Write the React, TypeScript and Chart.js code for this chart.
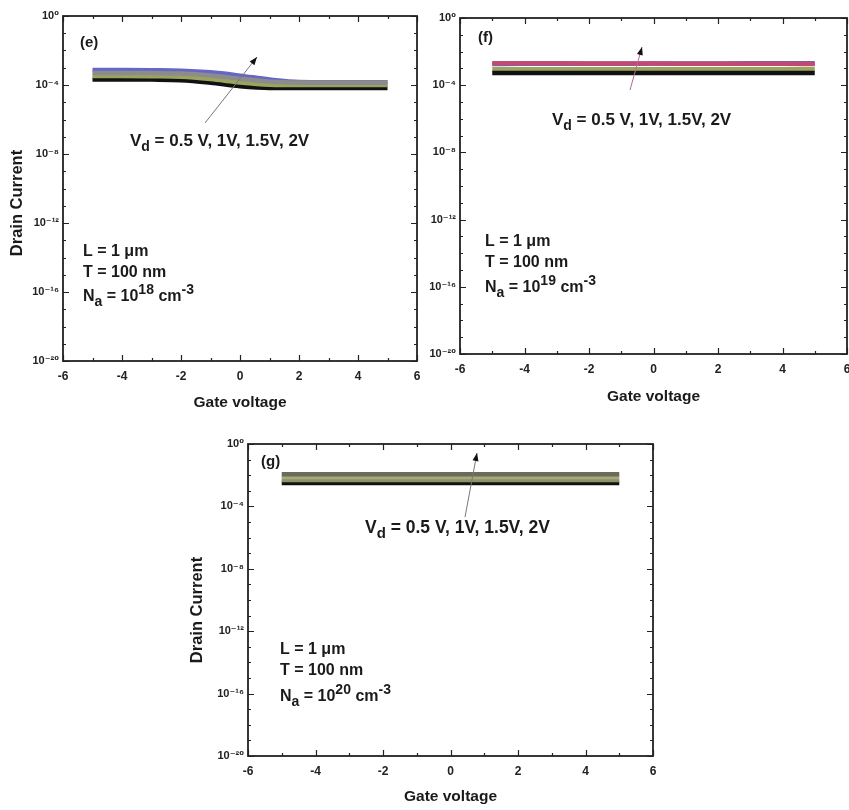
import React, { useEffect, useRef } from 'react';
import { Chart, registerables } from 'chart.js';

Chart.register(...registerables);

// ---------------- data ----------------
const gateVoltage = [-5, -4, -3, -2, -1, 0, 1, 2, 3, 4, 5];
const xTickValues = [-6, -4, -2, 0, 2, 4, 6];
const xMinorTicks = [-5, -3, -1, 1, 3, 5];
const yTickExponents = [0, -4, -8, -12, -16, -20];
const yMinorExponents = [-1, -2, -3, -5, -6, -7, -9, -10, -11, -13, -14, -15, -17, -18, -19];
const drainVoltages = ['0.5 V', '1 V', '1.5 V', '2 V'];

// panel (e)  Na = 1e18
const eCurrentVd05 = [2.1e-4, 2.1e-4, 2.05e-4, 1.9e-4, 1.35e-4, 8.5e-5, 6.8e-5, 6.8e-5, 6.8e-5, 6.8e-5, 6.8e-5];
const eCurrentVd1 = [3.3e-4, 3.3e-4, 3.2e-4, 3.0e-4, 2.2e-4, 1.4e-4, 1.05e-4, 1.0e-4, 1.0e-4, 1.0e-4, 1.0e-4];
const eCurrentVd15 = [5.0e-4, 5.0e-4, 4.9e-4, 4.6e-4, 3.6e-4, 2.3e-4, 1.55e-4, 1.4e-4, 1.4e-4, 1.4e-4, 1.4e-4];
const eCurrentVd2 = [7.4e-4, 7.4e-4, 7.2e-4, 6.8e-4, 5.4e-4, 3.5e-4, 2.1e-4, 1.5e-4, 1.45e-4, 1.45e-4, 1.45e-4];

// panel (f)  Na = 1e19
const fCurrentVd05 = [5.4e-4, 5.4e-4, 5.4e-4, 5.4e-4, 5.4e-4, 5.4e-4, 5.4e-4, 5.4e-4, 5.4e-4, 5.4e-4, 5.4e-4];
const fCurrentVd1 = [8.9e-4, 8.9e-4, 8.9e-4, 8.9e-4, 8.9e-4, 8.9e-4, 8.9e-4, 8.9e-4, 8.9e-4, 8.9e-4, 8.9e-4];
const fCurrentVd15 = [1.85e-3, 1.86e-3, 1.88e-3, 1.9e-3, 1.92e-3, 1.94e-3, 1.96e-3, 1.98e-3, 2.0e-3, 2.02e-3, 2.04e-3];
const fCurrentVd2 = [2.04e-3, 2.02e-3, 2.0e-3, 1.98e-3, 1.96e-3, 1.94e-3, 1.92e-3, 1.9e-3, 1.88e-3, 1.86e-3, 1.85e-3];

// panel (g)  Na = 1e20
const gCurrentVd05 = [3.2e-3, 3.2e-3, 3.2e-3, 3.2e-3, 3.2e-3, 3.2e-3, 3.2e-3, 3.2e-3, 3.2e-3, 3.2e-3, 3.2e-3];
const gCurrentVd1 = [5.0e-3, 5.0e-3, 5.0e-3, 5.0e-3, 5.0e-3, 5.0e-3, 5.0e-3, 5.0e-3, 5.0e-3, 5.0e-3, 5.0e-3];
const gCurrentVd15 = [7.6e-3, 7.6e-3, 7.6e-3, 7.6e-3, 7.6e-3, 7.6e-3, 7.6e-3, 7.6e-3, 7.6e-3, 7.6e-3, 7.6e-3];
const gCurrentVd2 = [1.15e-2, 1.15e-2, 1.15e-2, 1.15e-2, 1.15e-2, 1.15e-2, 1.15e-2, 1.15e-2, 1.15e-2, 1.15e-2, 1.15e-2];

const FONT = '"Liberation Sans", Arial, "DejaVu Sans", sans-serif';

const SUP: Record<string, string> = {
  '0': '\u2070', '1': '\u00b9', '2': '\u00b2', '3': '\u00b3', '4': '\u2074',
  '5': '\u2075', '6': '\u2076', '7': '\u2077', '8': '\u2078', '9': '\u2079', '-': '\u207b',
};
const toSup = (s: string) => s.split('').map((c) => SUP[c] ?? c).join('');

type Part = [string, 'n' | 'sub' | 'sup'];

function drawRich(ctx: CanvasRenderingContext2D, parts: Part[], x: number, y: number, size: number) {
  let cx = x;
  ctx.textBaseline = 'middle';
  ctx.textAlign = 'left';
  for (const [t, k] of parts) {
    const s = k === 'n' ? size : Math.round(size * 0.85);
    ctx.font = `bold ${s}px ${FONT}`;
    const dy = k === 'sub' ? size * 0.35 : k === 'sup' ? -size * 0.4 : 0;
    ctx.fillText(t, cx, y + dy);
    cx += ctx.measureText(t).width;
  }
}

function drawArrow(ctx: CanvasRenderingContext2D, x1: number, y1: number, x2: number, y2: number, color: string) {
  ctx.save();
  ctx.strokeStyle = color;
  ctx.lineWidth = 1;
  ctx.beginPath();
  ctx.moveTo(x1, y1);
  ctx.lineTo(x2, y2);
  ctx.stroke();
  const a = Math.atan2(y2 - y1, x2 - x1);
  const L = 8;
  const W = 3;
  ctx.fillStyle = '#111';
  ctx.beginPath();
  ctx.moveTo(x2, y2);
  ctx.lineTo(x2 - L * Math.cos(a) + W * Math.sin(a), y2 - L * Math.sin(a) - W * Math.cos(a));
  ctx.lineTo(x2 - L * Math.cos(a) - W * Math.sin(a), y2 - L * Math.sin(a) + W * Math.cos(a));
  ctx.closePath();
  ctx.fill();
  ctx.restore();
}

interface SeriesSpec { values: number[]; color: string; order: number; }
interface PanelSpec {
  tag: string;
  naExp: string;
  series: SeriesSpec[];
  left: number; top: number; width: number; height: number;
  yAxisWidth: number; xAxisHeight: number; padTop: number; padRight: number;
  xTitlePad: number;
  showYTitle: boolean;
  yTitle: [number, number];
  tagPos: [number, number];
  arrow: [number, number, number, number];
  arrowColor: string;
  vdPos: [number, number];
  vdSize: number;
  paramPos: [number, number, number, number];
}

const panels: PanelSpec[] = [
  {
    tag: '(e)', naExp: '18',
    series: [
      { values: eCurrentVd05, color: '#111111', order: 3 },
      { values: eCurrentVd1, color: '#9aa45e', order: 2 },
      { values: eCurrentVd15, color: '#8c8c8c', order: 0 },
      { values: eCurrentVd2, color: '#6666c4', order: 1 },
    ],
    left: 0, top: 0, width: 422, height: 415,
    yAxisWidth: 63, xAxisHeight: 54, padTop: 16, padRight: 5, xTitlePad: 3,
    showYTitle: true, yTitle: [-45.5, 187],
    tagPos: [17, 27], arrow: [142, 107, 194, 41], arrowColor: '#777777',
    vdPos: [67, 125], vdSize: 17, paramPos: [20, 236, 257, 281],
  },
  {
    tag: '(f)', naExp: '19',
    series: [
      { values: fCurrentVd05, color: '#111111', order: 2 },
      { values: fCurrentVd1, color: '#9aa45e', order: 3 },
      { values: fCurrentVd15, color: '#6666c4', order: 1 },
      { values: fCurrentVd2, color: '#c04a72', order: 0 },
    ],
    left: 422, top: 0, width: 427, height: 415,
    yAxisWidth: 38, xAxisHeight: 61, padTop: 18, padRight: 2, xTitlePad: 9,
    showYTitle: false, yTitle: [0, 0],
    tagPos: [18, 20], arrow: [170, 72, 182, 29], arrowColor: '#b06a9a',
    vdPos: [92, 102], vdSize: 17, paramPos: [25, 224, 245, 270],
  },
  {
    tag: '(g)', naExp: '20',
    series: [
      { values: gCurrentVd05, color: '#111111', order: 3 },
      { values: gCurrentVd1, color: '#8e9268', order: 2 },
      { values: gCurrentVd15, color: '#a6a87e', order: 1 },
      { values: gCurrentVd2, color: '#6b6b58', order: 0 },
    ],
    left: 185, top: 420, width: 475, height: 390,
    yAxisWidth: 63, xAxisHeight: 54, padTop: 24, padRight: 7, xTitlePad: 4,
    showYTitle: true, yTitle: [-51, 166],
    tagPos: [13, 18], arrow: [217, 73, 229, 9], arrowColor: '#777777',
    vdPos: [117, 84], vdSize: 17.5, paramPos: [32, 206, 227, 253],
  },
];

function Panel({ spec }: { spec: PanelSpec }) {
  const ref = useRef<HTMLCanvasElement>(null);

  useEffect(() => {
    if (!ref.current) return;
    const decor = {
      id: 'decor',
      afterDraw(chart: any) {
        const ctx: CanvasRenderingContext2D = chart.ctx;
        const { left, right, top, bottom } = chart.chartArea;
        const xs = chart.scales.x;
        const ys = chart.scales.y;
        ctx.save();
        // inward ticks on all four sides
        ctx.strokeStyle = '#222';
        ctx.lineWidth = 1.2;
        ctx.beginPath();
        const xt = (vals: number[], len: number) => {
          for (const v of vals) {
            const p = Math.round(xs.getPixelForValue(v)) + 0.5;
            ctx.moveTo(p, bottom); ctx.lineTo(p, bottom - len);
            ctx.moveTo(p, top); ctx.lineTo(p, top + len);
          }
        };
        const yt = (exps: number[], len: number) => {
          for (const e of exps) {
            const p = Math.round(ys.getPixelForValue(Number(`1e${e}`))) + 0.5;
            ctx.moveTo(left, p); ctx.lineTo(left + len, p);
            ctx.moveTo(right, p); ctx.lineTo(right - len, p);
          }
        };
        xt(xTickValues, 6); xt(xMinorTicks, 3);
        yt(yTickExponents, 6); yt(yMinorExponents, 3);
        ctx.stroke();
        // frame
        ctx.lineWidth = 1.8;
        ctx.strokeRect(left, top, right - left, bottom - top);

        ctx.fillStyle = '#1a1a1a';
        drawRich(ctx, [[spec.tag, 'n']], left + spec.tagPos[0], top + spec.tagPos[1], 15);
        drawArrow(ctx, left + spec.arrow[0], top + spec.arrow[1], left + spec.arrow[2], top + spec.arrow[3], spec.arrowColor);
        ctx.fillStyle = '#1a1a1a';
        drawRich(ctx, [['V', 'n'], ['d', 'sub'], [' = 0.5 V, 1V, 1.5V, 2V', 'n']], left + spec.vdPos[0], top + spec.vdPos[1], spec.vdSize);
        const px = left + spec.paramPos[0];
        drawRich(ctx, [['L = 1 \u03bcm', 'n']], px, top + spec.paramPos[1], 16);
        drawRich(ctx, [['T = 100 nm', 'n']], px, top + spec.paramPos[2], 16);
        drawRich(ctx, [['N', 'n'], ['a', 'sub'], [' = 10', 'n'], [spec.naExp, 'sup'], [' cm', 'n'], ['-3', 'sup']], px, top + spec.paramPos[3], 16);
        if (spec.showYTitle) {
          ctx.save();
          ctx.translate(left + spec.yTitle[0], top + spec.yTitle[1]);
          ctx.rotate(-Math.PI / 2);
          ctx.font = `bold 16.5px ${FONT}`;
          ctx.textAlign = 'center';
          ctx.textBaseline = 'middle';
          ctx.fillText('Drain Current', 0, 0);
          ctx.restore();
        }
        ctx.restore();
      },
    };

    const chart = new Chart(ref.current, {
      type: 'line',
      data: {
        datasets: spec.series.map((s, i) => ({
          label: `Vd = ${drainVoltages[i]}`,
          data: gateVoltage.map((x, j) => ({ x, y: s.values[j] })),
          borderColor: s.color,
          backgroundColor: s.color,
          borderWidth: 4.5,
          pointRadius: 0,
          cubicInterpolationMode: 'monotone' as const,
          order: s.order,
          fill: false,
        })),
      },
      options: {
        animation: false,
        responsive: false,
        maintainAspectRatio: false,
        layout: { autoPadding: false, padding: { top: spec.padTop, right: spec.padRight, left: 0, bottom: 0 } },
        plugins: { legend: { display: false }, tooltip: { enabled: false } },
        scales: {
          x: {
            type: 'linear',
            min: -6,
            max: 6,
            afterBuildTicks: (scale: any) => { scale.ticks = xTickValues.map((v) => ({ value: v })); },
            afterFit: (scale: any) => {
              scale.height = spec.xAxisHeight;
              scale.paddingLeft = 0;
              scale.paddingRight = 0;
            },
            grid: { display: false, drawTicks: false },
            border: { display: false },
            ticks: {
              padding: 8,
              color: '#222',
              font: { family: FONT, size: 12, weight: 'bold' },
              callback: (v: any) => String(v),
            },
            title: {
              display: true,
              text: 'Gate voltage',
              color: '#1a1a1a',
              font: { family: FONT, size: 15.5, weight: 'bold' },
              padding: { top: 0, bottom: spec.xTitlePad },
            },
          },
          y: {
            type: 'logarithmic',
            min: 1e-20,
            max: 1,
            afterBuildTicks: (scale: any) => {
              scale.ticks = yTickExponents.map((e) => ({ value: Number(`1e${e}`), major: true }));
            },
            afterFit: (scale: any) => {
              scale.width = spec.yAxisWidth;
              scale.paddingTop = 0;
              scale.paddingBottom = 0;
            },
            grid: { display: false, drawTicks: false },
            border: { display: false },
            ticks: {
              padding: 4,
              color: '#222',
              font: { family: FONT, size: 11, weight: 'bold' },
              callback: (v: any) => '10' + toSup(String(Math.round(Math.log10(Number(v))))),
            },
          },
        },
      },
      plugins: [decor],
    } as any);
    return () => chart.destroy();
  }, [spec]);

  return (
    <canvas
      ref={ref}
      width={spec.width}
      height={spec.height}
      style={{ position: 'absolute', left: spec.left, top: spec.top, width: spec.width, height: spec.height }}
    />
  );
}

export default function App() {
  return (
    <div style={{ position: 'absolute', left: 0, top: 0, width: 849, height: 810, background: '#fff', overflow: 'hidden' }}>
      {panels.map((p) => (
        <Panel key={p.tag} spec={p} />
      ))}
    </div>
  );
}
